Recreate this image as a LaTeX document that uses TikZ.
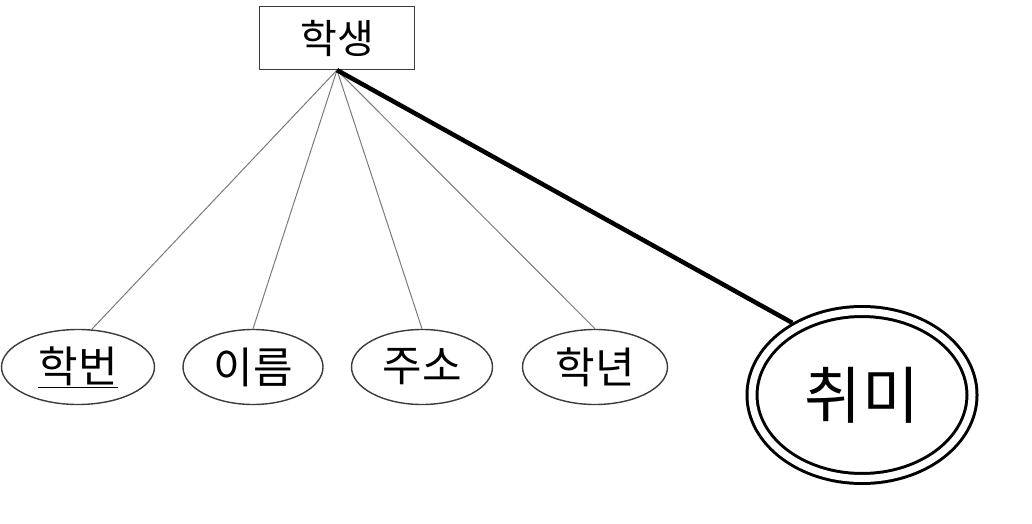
\documentclass[tikz,border=0pt]{standalone}
\usepackage{fontspec}
\newfontfamily\kor{Noto Sans CJK KR}
\usetikzlibrary{shapes.geometric}
\definecolor{cline}{HTML}{7A7A7A}
\definecolor{cedge}{HTML}{3C3C3C}
\tikzset{
  every picture/.style={font=\kor, x=1pt, y=1pt},
  entity/.style={draw=cedge, line width=1.2pt, minimum width=155pt, minimum height=63pt, inner sep=0pt, font=\kor\fontsize{40}{44}\selectfont},
  attr/.style={ellipse, draw=cedge, line width=1.4pt, minimum height=75pt, inner sep=0pt, font=\kor\fontsize{43}{46}\selectfont},
  multiattr/.style={ellipse, draw=black, line width=3pt, double=white, double distance=7pt, outer sep=6.5pt, minimum width=220pt, minimum height=167pt, inner sep=0pt, font=\kor\fontsize{62}{66}\selectfont},
  link/.style={draw=cline, line width=1pt},
  thicklink/.style={draw=black, line width=4.5pt},
}
\begin{document}
\begin{tikzpicture}
  \useasboundingbox (0,0) rectangle (1032,523);
  \node[entity] (student) at (337,485) {학생};
  \node[attr, minimum width=153pt] (sid) at (78,156) {\underline{학번}};
  \node[attr, minimum width=140pt] (name) at (253,156) {이름};
  \node[attr, minimum width=141pt] (addr) at (422,156) {주소};
  \node[attr, minimum width=145pt] (grade) at (595,156) {학년};
  \node[multiattr] (hobby) at (862,128) {취미};
  \draw[link] (student.south) -- (sid.70);
  \draw[link] (student.south) -- (name.north);
  \draw[link] (student.south) -- (addr.north);
  \draw[link] (student.south) -- (grade.north);
  \draw[thicklink] (student.south) -- (hobby.134);
\end{tikzpicture}
\end{document}
